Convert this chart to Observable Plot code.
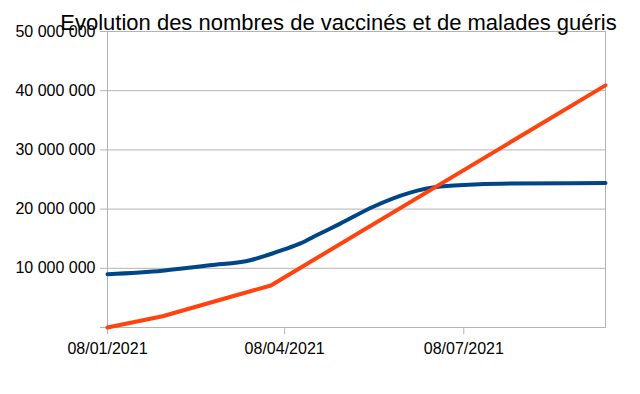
<!DOCTYPE html>
<html>
<head>
<meta charset="utf-8">
<script src="https://cdn.jsdelivr.net/npm/d3@7"></script>
<script src="https://cdn.jsdelivr.net/npm/@observablehq/plot@0.6"></script>
<style>
  html, body { margin: 0; padding: 0; background: #fff; }
  #wrap { position: relative; width: 640px; height: 394px; font-family: "Liberation Sans", Arial, sans-serif; }
  #title { position: absolute; left: 0; width: 677px; top: 12px; text-align: center; font-size: 22px; color: #000; white-space: nowrap; z-index: 2; line-height: 1; }
  #chart { position: absolute; left: 0; top: 0; }
</style>
</head>
<body>
<div id="wrap">
  <div id="chart"></div>
  <div id="title">Evolution des nombres de vaccinés et de malades guéris</div>
</div>
<script>
const titleText = "Evolution des nombres de vaccinés et de malades guéris";
const seriesNames = ["Vaccinés", "Malades guéris"];

// Series 1 (blue)
const blueDates = ["2021-01-08","2021-02-05","2021-03-01","2021-03-22","2021-03-30","2021-04-07","2021-04-16","2021-04-25","2021-05-06","2021-05-23","2021-06-10","2021-06-26","2021-07-27","2021-09-18"];
const blueValues = [9000000, 9600000, 10500000, 11400000, 12200000, 13100000, 14200000, 15700000, 17500000, 20400000, 22700000, 23800000, 24300000, 24400000];

// Series 2 (orange)
const orangeDates = ["2021-01-08","2021-02-05","2021-04-01","2021-09-18"];
const orangeValues = [0, 1900000, 7100000, 40900000];

const yTicks = [0, 10000000, 20000000, 30000000, 40000000, 50000000];
const xTickDates = ["2021-01-08","2021-04-08","2021-07-08"];
const xDomain = ["2021-01-08","2021-09-18"];

const parse = s => new Date(s + "T00:00:00Z");
const blue = blueDates.map((d, i) => ({date: parse(d), value: blueValues[i], series: seriesNames[0]}));
const orange = orangeDates.map((d, i) => ({date: parse(d), value: orangeValues[i], series: seriesNames[1]}));

const fmtY = d => d === 0 ? "" : d3.format(",")(d).replace(/,/g, " ");
const fmtX = d3.utcFormat("%d/%m/%Y");
const grid = "#b3b3b3";

const chart = Plot.plot({
  width: 640,
  height: 394,
  marginLeft: 107,
  marginRight: 35,
  marginTop: 31,
  marginBottom: 67,
  style: {fontFamily: "Liberation Sans, Arial, sans-serif", fontSize: "16px", color: "#000", background: "#fff"},
  x: {type: "utc", domain: xDomain.map(parse)},
  y: {domain: [0, 50000000]},
  marks: [
    Plot.ruleY(yTicks, {stroke: grid, strokeWidth: 1}),
    Plot.frame({stroke: grid, strokeWidth: 1}),
    Plot.axisY({ticks: yTicks, tickFormat: fmtY, tickSize: 7, tickPadding: 5, stroke: grid, fill: "#000", label: null}),
    Plot.axisX({ticks: xTickDates.map(parse), tickFormat: fmtX, tickSize: 7, tickPadding: 8, stroke: grid, fill: "#000", label: null}),
    Plot.line(blue, {x: "date", y: "value", stroke: "#004586", strokeWidth: 4, curve: "monotone-x"}),
    Plot.line(orange, {x: "date", y: "value", stroke: "#ff420e", strokeWidth: 4})
  ]
});
document.getElementById("chart").appendChild(chart);
</script>
</body>
</html>
